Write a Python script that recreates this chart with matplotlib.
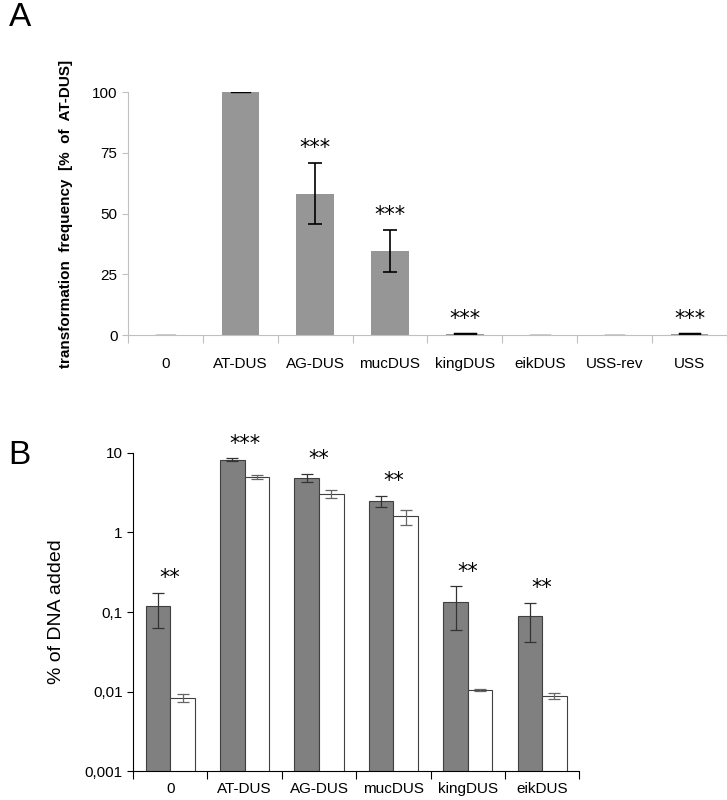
import matplotlib
matplotlib.use("Agg")
import matplotlib.pyplot as plt
import numpy as np

plt.rcParams['font.family'] = ['Liberation Sans', 'DejaVu Sans']

cats_a = ["0", "AT-DUS", "AG-DUS", "mucDUS", "kingDUS", "eikDUS", "USS-rev", "USS"]
vals_a = [0.1, 100, 58.2, 34.6, 0.5, 0.1, 0.1, 0.5]
err_a = [0, 0, 12.6, 8.7, 0, 0, 0, 0]
stars_a = ["", "", "***", "***", "***", "", "", "***"]

cats_b = ["0", "AT-DUS", "AG-DUS", "mucDUS", "kingDUS", "eikDUS"]
dark_b = [0.12, 8.2, 4.8, 2.5, 0.135, 0.088]
dark_lo = [0.063, 7.9, 4.3, 2.1, 0.06, 0.042]
dark_hi = [0.175, 8.5, 5.4, 2.9, 0.21, 0.13]
white_b = [0.0083, 5.0, 3.0, 1.6, 0.0105, 0.0088]
white_lo = [0.0075, 4.7, 2.7, 1.25, 0.0102, 0.008]
white_hi = [0.0093, 5.3, 3.4, 1.9, 0.0108, 0.0097]
stars_b = ["**", "***", "**", "**", "**", "**"]

fig = plt.figure(figsize=(7.27, 8), dpi=100)

# Panel A
axa = fig.add_axes([0.176, 0.581, 0.824, 0.304])
xa = np.arange(len(cats_a))
axa.bar(xa, vals_a, width=0.5, color="#969696")
ea = [(i, v, e) for i, (v, e) in enumerate(zip(vals_a, err_a)) if e > 0]
axa.errorbar([e[0] for e in ea], [e[1] for e in ea], yerr=[e[2] for e in ea],
             fmt="none", ecolor="black", elinewidth=1.2, capsize=5, capthick=1.2)
for i, v in enumerate(vals_a):
    if v < 2 or err_a[i] == 0:
        axa.plot([i - 0.13, i + 0.13], [v, v], color="black", lw=2.5 if 0.3 < v < 2 else 1)
for i, s in enumerate(stars_a):
    if s:
        axa.text(i, vals_a[i] + err_a[i] + 2, s, ha="center", va="bottom", fontsize=15,
                 family="DejaVu Sans")
axa.set_xlim(-0.5, 7.5)
axa.set_ylim(0, 100)
axa.set_yticks([0, 25, 50, 75, 100])
axa.tick_params(axis="y", labelsize=11, length=4, color="#c0c0c0")
axa.set_xticks(np.arange(-0.5, 7.6, 1))
axa.set_xticklabels([])
axa.set_xticks(xa, minor=True)
axa.set_xticklabels(cats_a, minor=True, fontsize=11)
axa.tick_params(axis="x", which="major", length=6, color="#c0c0c0")
axa.tick_params(axis="x", which="minor", length=0, pad=16)
for s in ["top", "right"]:
    axa.spines[s].set_visible(False)
axa.spines["left"].set_color("#c0c0c0")
axa.spines["bottom"].set_color("#c0c0c0")
axa.set_ylabel("transformation  frequency  [%  of  AT-DUS]",
               fontsize=11, fontweight="bold", labelpad=14)
fig.text(0.012, 0.978, "A", fontsize=24, va="center")

# Panel B
axb = fig.add_axes([0.183, 0.036, 0.614, 0.398])
xb = np.arange(len(cats_b))
w = 0.33
axb.bar(xb - w / 2, dark_b, width=w, color="#808080", edgecolor="#404040", linewidth=0.8)
axb.bar(xb + w / 2, white_b, width=w, color="white", edgecolor="#404040", linewidth=0.8)
axb.errorbar(xb - w / 2, dark_b,
             yerr=[np.array(dark_b) - np.array(dark_lo), np.array(dark_hi) - np.array(dark_b)],
             fmt="none", ecolor="#333333", elinewidth=0.9, capsize=4, capthick=0.9)
axb.errorbar(xb + w / 2, white_b,
             yerr=[np.array(white_b) - np.array(white_lo), np.array(white_hi) - np.array(white_b)],
             fmt="none", ecolor="#666666", elinewidth=0.9, capsize=4, capthick=0.9)
for i, s in enumerate(stars_b):
    axb.text(i, dark_hi[i] * 1.15, s, ha="center", va="bottom", fontsize=15,
             family="DejaVu Sans")
axb.set_yscale("log")
axb.set_ylim(0.001, 10)
axb.set_xlim(-0.5, 5.5)
axb.set_yticks([0.001, 0.01, 0.1, 1, 10])
axb.set_yticklabels(["0,001", "0,01", "0,1", "1", "10"])
axb.yaxis.set_minor_locator(matplotlib.ticker.NullLocator())
axb.tick_params(axis="y", labelsize=11, length=4)
axb.set_xticks(np.arange(-0.5, 5.6, 1))
axb.set_xticklabels([])
axb.set_xticks(xb, minor=True)
axb.set_xticklabels(cats_b, minor=True, fontsize=11)
axb.tick_params(axis="x", which="major", length=6)
axb.tick_params(axis="x", which="minor", length=0, pad=8)
for s in ["top", "right"]:
    axb.spines[s].set_visible(False)
axb.set_ylabel("% of DNA added", fontsize=14, labelpad=14)
fig.text(0.012, 0.43, "B", fontsize=24, va="center")

fig.savefig("out.png", dpi=100)
